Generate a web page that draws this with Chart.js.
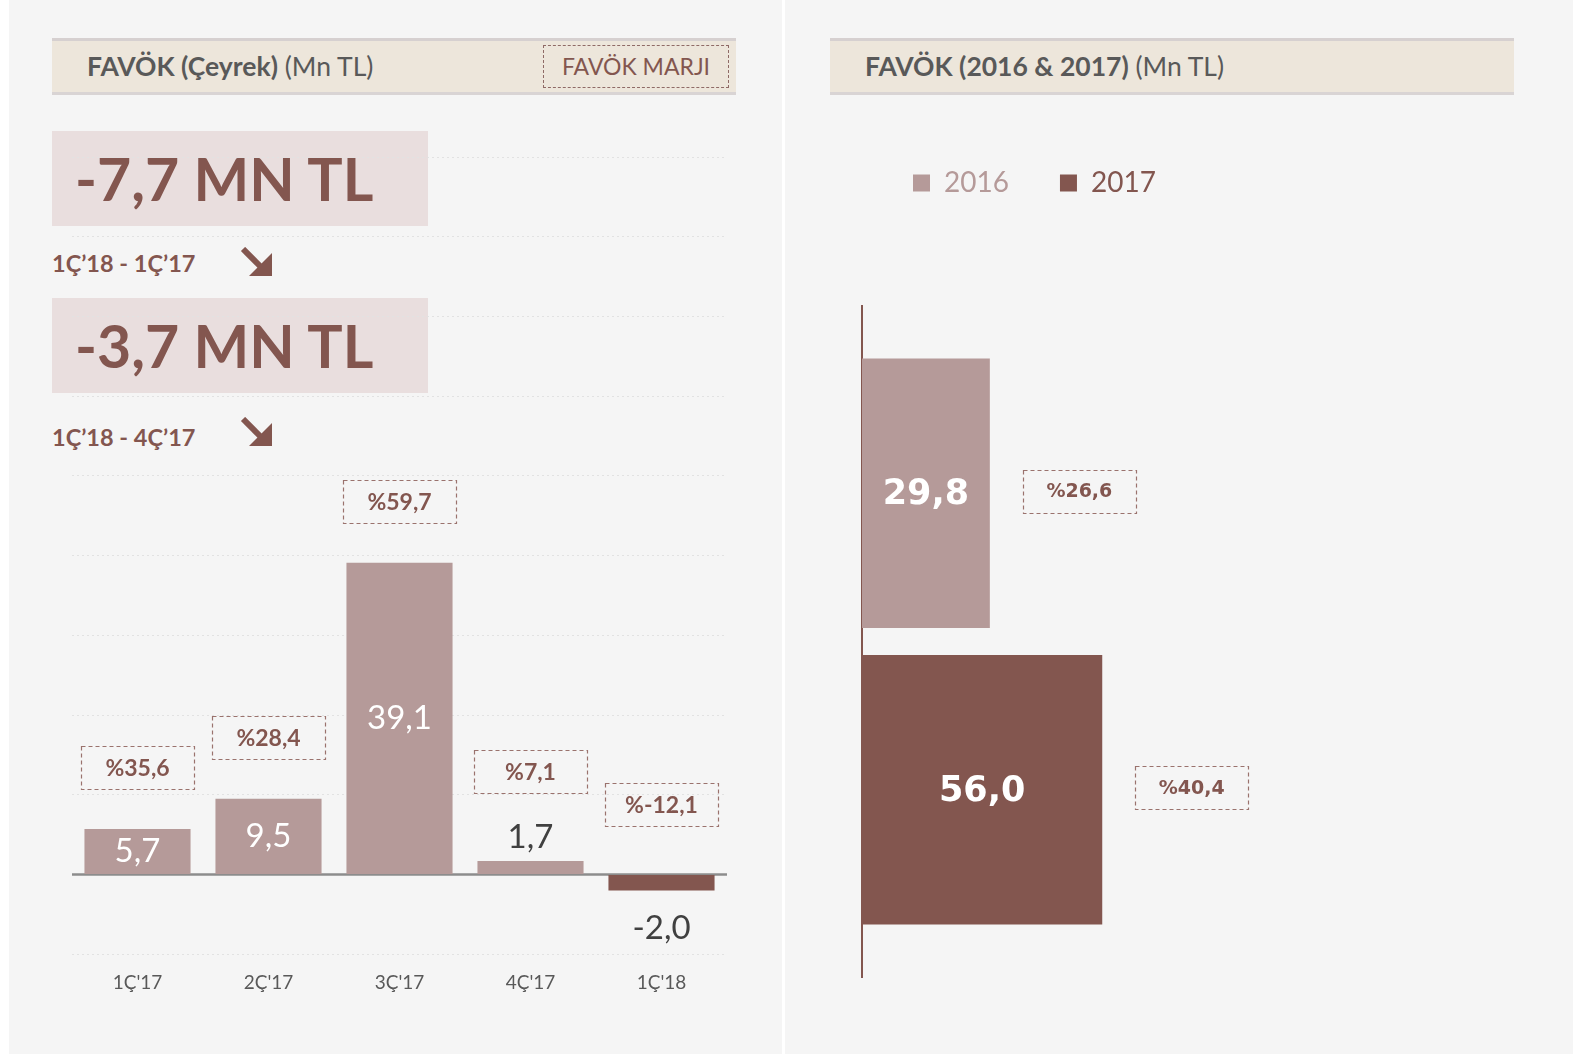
<!DOCTYPE html>
<html lang="tr">
<head>
<meta charset="utf-8">
<title>FAVÖK</title>
<script src="https://cdn.jsdelivr.net/npm/chart.js@4.4.1/dist/chart.umd.min.js"></script>
<style>
  html, body { margin: 0; padding: 0; background: #fff; }
  body { width: 1573px; height: 1054px; position: relative; overflow: hidden; font-family: Lato, "Open Sans", sans-serif; }
  .panel { position: absolute; top: 0; height: 1054px; background: #f5f5f5; }
  .head { position: absolute; top: 38px; height: 51px; background: #ede6db; border-top: 3px solid #d6d0d0; border-bottom: 3px solid #d9d4d4; }
  .head .t { position: absolute; left: 35px; top: 9px; font-size: 26.5px; color: #595959; white-space: nowrap; }
  .head b { font-weight: 700; }
  .marji { position: absolute; right: 7px; top: 4px; width: 184px; height: 41px; border: 1px dashed #8f6a66; color: #83564f; font-size: 23px; line-height: 41px; text-align: center; }
  .kpi { position: absolute; left: 52px; width: 376px; height: 95px; background: #e9dede; color: #83564f; font-weight: 700; font-size: 59px; line-height: 95px; padding-left: 23px; box-sizing: border-box; white-space: nowrap; }
  .sub { position: absolute; left: 52px; color: #83564f; font-weight: 700; font-size: 23.5px; line-height: 26px; }
  .arrow { position: absolute; left: 240px; width: 34px; height: 30px; }
  canvas { position: absolute; }
</style>
</head>
<body>
<div class="panel" style="left:9px;width:773px;"></div>
<div class="panel" style="left:785px;width:788px;"></div>

<div class="head" style="left:52px;width:684px;">
  <div class="t"><b>FAVÖK (Çeyrek)</b> (Mn TL)</div>
  <div class="marji">FAVÖK MARJI</div>
</div>
<div class="head" style="left:830px;width:684px;">
  <div class="t"><b>FAVÖK (2016 &amp; 2017)</b> (Mn TL)</div>
</div>

<div class="kpi" style="top:131px;">-7,7 MN TL</div>
<div class="sub" style="top:250px;">1Ç’18 - 1Ç’17</div>
<svg class="arrow" style="top:247px;" viewBox="0 0 34 30">
  <line x1="3" y1="2" x2="22" y2="21" stroke="#83564f" stroke-width="6"/>
  <polygon points="32,6 32,29 9,29" fill="#83564f"/>
</svg>
<div class="kpi" style="top:298px;">-3,7 MN TL</div>
<div class="sub" style="top:424px;">1Ç’18 - 4Ç’17</div>
<svg class="arrow" style="top:417px;" viewBox="0 0 34 30">
  <line x1="3" y1="2" x2="22" y2="21" stroke="#83564f" stroke-width="6"/>
  <polygon points="32,6 32,29 9,29" fill="#83564f"/>
</svg>

<canvas id="quarterChart" style="left:62px;top:140px;width:675px;height:863px;"></canvas>
<canvas id="yearChart" style="left:860px;top:118px;width:640px;height:872px;"></canvas>

<script>
// Quarterly EBITDA (Mn TL) and margin (%)
const quarters = ["1Ç'17", "2Ç'17", "3Ç'17", "4Ç'17", "1Ç'18"];
const quarterFavok = [5.7, 9.5, 39.1, 1.7, -2.0];
const quarterMargins = [35.6, 28.4, 59.7, 7.1, -12.1];

// Yearly EBITDA (Mn TL) and margin (%)
const years = ['2016', '2017'];
const yearFavok = [29.8, 56.0];
const yearMargins = [26.6, 40.4];

const LIGHT = '#b59a99';
const DARK = '#83564f';

function fmt(v) {
    return v.toFixed(1).replace('.', ',');
}

function dashedBox(ctx, cx, cy, w, h, text, font) {
    ctx.save();
    ctx.setLineDash([4, 3]);
    ctx.strokeStyle = '#9a726d';
    ctx.lineWidth = 1.2;
    ctx.strokeRect(Math.round(cx - w / 2) + 0.5, Math.round(cy - h / 2) + 0.5, w, h);
    ctx.setLineDash([]);
    ctx.fillStyle = DARK;
    ctx.font = font;
    ctx.textAlign = 'center';
    ctx.textBaseline = 'middle';
    ctx.fillText(text, cx, cy + 1);
    ctx.restore();
}

// Zero line under the quarterly bars
const zeroLine = {
    id: 'zeroLine',
    beforeDatasetsDraw(chart) {
        const { ctx, chartArea, scales } = chart;
        const y = scales.y.getPixelForValue(0);
        ctx.save();
        ctx.strokeStyle = '#8c8c8c';
        ctx.lineWidth = 2.5;
        ctx.beginPath();
        ctx.moveTo(chartArea.left, y);
        ctx.lineTo(chartArea.right, y);
        ctx.stroke();
        ctx.restore();
    }
};

// Value labels and margin boxes for quarters
const quarterLabels = {
    id: 'quarterLabels',
    afterDatasetsDraw(chart) {
        const ctx = chart.ctx;
        const meta = chart.getDatasetMeta(0);
        meta.data.forEach(function (bar, i) {
            const v = quarterFavok[i];
            const h = Math.abs(bar.base - bar.y);
            let boxBottom;
            ctx.save();
            ctx.font = '33px Lato';
            ctx.textAlign = 'center';
            if (v >= 0 && h > 40) {
                ctx.fillStyle = '#ffffff';
                ctx.textBaseline = 'middle';
                ctx.fillText(fmt(v), bar.x, (bar.y + bar.base) / 2);
                boxBottom = bar.y - 40;
            } else if (v >= 0) {
                ctx.fillStyle = '#404040';
                ctx.textBaseline = 'bottom';
                ctx.fillText(fmt(v), bar.x, bar.y - 7);
                boxBottom = bar.y - 68;
            } else {
                ctx.fillStyle = '#404040';
                ctx.textBaseline = 'top';
                ctx.fillText(fmt(v), bar.x, bar.y + 21);
                boxBottom = bar.base - 49;
            }
            ctx.restore();
            dashedBox(ctx, bar.x, boxBottom - 21.5, 113, 43, '%' + fmt(quarterMargins[i]), 'bold 23px Lato');
        });
    }
};

new Chart(document.getElementById('quarterChart'), {
    type: 'bar',
    data: {
        labels: quarters,
        datasets: [{
            label: 'FAVÖK',
            data: quarterFavok,
            backgroundColor: quarterFavok.map(function (v) { return v < 0 ? DARK : LIGHT; }),
            categoryPercentage: 0.9,
            barPercentage: 0.9
        }]
    },
    options: {
        responsive: false,
        animation: false,
        layout: { padding: { left: 10, right: 10, top: 17, bottom: 0 } },
        plugins: { legend: { display: false }, tooltip: { enabled: false } },
        scales: {
            x: {
                grid: { display: false },
                border: { display: false },
                ticks: { color: '#595959', font: { family: 'Lato', size: 19 }, padding: 9 }
            },
            y: {
                min: -10,
                max: 90,
                ticks: { display: false, stepSize: 10 },
                grid: {
                    drawTicks: false,
                    color: function (c) { return c.tick && c.tick.value === 0 ? 'rgba(0,0,0,0)' : '#e2e2e2'; },
                    lineWidth: 1
                },
                border: { display: false, dash: [2, 3] }
            }
        }
    },
    plugins: [zeroLine, quarterLabels]
});

// Extra room between legend and bars
const legendGap = {
    id: 'legendGap',
    beforeInit(chart) {
        const fit = chart.legend.fit;
        chart.legend.fit = function () {
            fit.call(this);
            this.height += 99;
        };
    }
};

const yearLabels = {
    id: 'yearLabels',
    afterDatasetsDraw(chart) {
        const ctx = chart.ctx;
        chart.data.datasets.forEach(function (ds, d) {
            const bar = chart.getDatasetMeta(d).data[0];
            ctx.save();
            ctx.fillStyle = '#ffffff';
            ctx.font = 'bold 35px "DejaVu Sans"';
            ctx.textAlign = 'center';
            ctx.textBaseline = 'middle';
            ctx.fillText(fmt(yearFavok[d]), (bar.x + bar.base) / 2, bar.y + 2);
            ctx.restore();
            dashedBox(ctx, bar.x + 33 + 56.5, bar.y - 2, 113, 43, '%' + fmt(yearMargins[d]), 'bold 19px "DejaVu Sans"');
        });
    }
};

new Chart(document.getElementById('yearChart'), {
    type: 'bar',
    data: {
        labels: ['FAVÖK'],
        datasets: years.map(function (yr, i) {
            return {
                label: yr,
                data: [yearFavok[i]],
                backgroundColor: i === 0 ? LIGHT : DARK,
                categoryPercentage: 0.884,
                barPercentage: 0.909
            };
        })
    },
    options: {
        indexAxis: 'y',
        responsive: false,
        animation: false,
        layout: { padding: { left: 2, right: 209, top: 0, bottom: 13 } },
        plugins: {
            tooltip: { enabled: false },
            legend: {
                align: 'start',
                labels: {
                    boxWidth: 17,
                    boxHeight: 17,
                    padding: 51,
                    font: { family: 'Lato', size: 28 },
                    generateLabels: function (chart) {
                        return chart.data.datasets.map(function (ds, i) {
                            return {
                                text: ds.label,
                                fillStyle: ds.backgroundColor,
                                strokeStyle: ds.backgroundColor,
                                lineWidth: 0,
                                fontColor: ds.backgroundColor,
                                datasetIndex: i
                            };
                        });
                    }
                }
            }
        },
        scales: {
            x: { display: false, min: 0, max: 100 },
            y: {
                ticks: { display: false },
                grid: { display: false, drawTicks: false },
                border: { display: true, color: DARK, width: 2 }
            }
        }
    },
    plugins: [legendGap, yearLabels]
});
</script>
</body>
</html>
